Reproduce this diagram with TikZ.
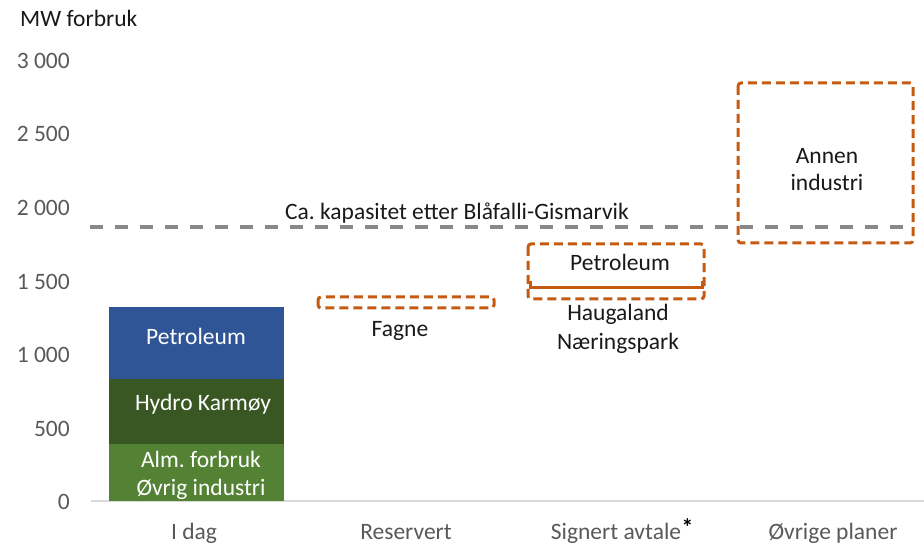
\documentclass[tikz,border=0pt]{standalone}
\usepackage{fontspec}
\setmainfont{Carlito}
\frenchspacing
\definecolor{axisgrey}{HTML}{595959}
\definecolor{axisline}{HTML}{D9D9D9}
\definecolor{capgrey}{HTML}{898989}
\definecolor{petblue}{HTML}{2F5597}
\definecolor{hydrogreen}{HTML}{385723}
\definecolor{almgreen}{HTML}{548235}
\definecolor{plorange}{HTML}{C55A11}
\tikzset{
  lbl/.style={font=\fontsize{23.5}{28}\selectfont, inner sep=0pt, text=black!90, text height=18pt, text depth=3pt},
  ylbl/.style={lbl, text=axisgrey, anchor=east},
  catlbl/.style={lbl, text=axisgrey},
  barlbl/.style={lbl, text=white},
  planbox/.style={draw=plorange, line width=3pt, dash pattern=on 9pt off 5pt, rounded corners=3pt},
}
\begin{document}
\begin{tikzpicture}[x=1pt,y=-1pt]
\useasboundingbox (0,0) rectangle (924,545);
% axis line
\draw[axisline, line width=1.5pt] (91,501) -- (924,501);
% y labels
\node[lbl, anchor=west] (unit) at (20,19) {MW forbruk};
\node[ylbl] (y0) at (70,502) {0};
\node[ylbl] (y500) at (70,429) {500};
\node[ylbl] (y1000) at (70,355) {1 000};
\node[ylbl] (y1500) at (70,282) {1 500};
\node[ylbl] (y2000) at (70,208) {2 000};
\node[ylbl] (y2500) at (70,134) {2 500};
\node[ylbl] (y3000) at (70,61) {3 000};
% stacked bar
\fill[almgreen] (109,444) rectangle (284,501);
\fill[hydrogreen] (109,379) rectangle (284,444);
\fill[petblue] (109,307) rectangle (284,379);
\node[barlbl] (bpet) at (196,337) {Petroleum};
\node[barlbl] (bhyd) at (203,403) {Hydro Karmøy};
\node[barlbl] (balm) at (201,460) {Alm. forbruk};
\node[barlbl] (bovr) at (201,488) {Øvrig industri};
% capacity line
\draw[capgrey, line width=4pt, dash pattern=on 13pt off 12pt] (90,227) -- (914,227);
\node[lbl] (cap) at (457,212) {Ca. kapasitet etter Blåfalli-Gismarvik};
% Fagne
\draw[planbox] (318,297) rectangle (494,308);
\node[lbl] (fagne) at (400,329) {Fagne};
% Signert
\draw[planbox] (528,244) rectangle (704,299);
\draw[plorange, line width=3pt] (530,281) -- (530,288) -- (702,288) -- (702,281);
\node[lbl] (spet) at (620,263) {Petroleum};
\node[lbl] (haug) at (618,313) {Haugaland};
\node[lbl] (naer) at (618,342) {Næringspark};
% Annen industri
\draw[planbox] (738,83) rectangle (913,243);
\node[lbl] (annen) at (827,156) {Annen};
\node[lbl] (ind) at (827,183) {industri};
% categories
\node[catlbl] (c1) at (194,532) {I dag};
\node[catlbl] (c2) at (406,532) {Reservert};
\node[catlbl] (c3) at (616,532) {Signert avtale};
\node[lbl, anchor=base west, text=black, font=\fontsize{23.5}{28}\selectfont\bfseries] (star) at ([yshift=4pt]c3.base east) {*};
\node[catlbl] (c4) at (833,532) {Øvrige planer};
\end{tikzpicture}
\end{document}
